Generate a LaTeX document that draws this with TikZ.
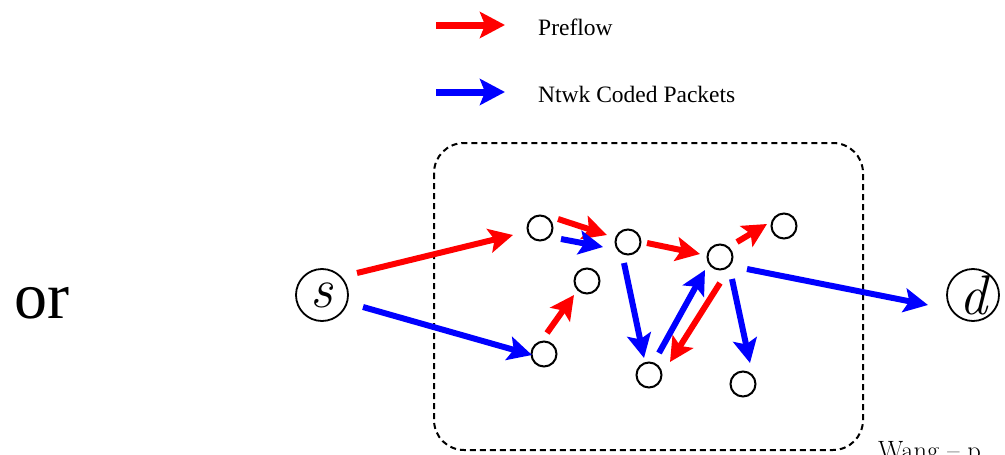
\documentclass[tikz,border=0pt]{standalone}
\usepackage{fontspec}
\newfontfamily\tnr{Liberation Serif}
\usetikzlibrary{arrows.meta,calc}

\tikzset{
  headtip/.tip={Stealth[length=24pt,width=24pt,inset=5pt]},
  preflow/.style={draw=red, line width=6pt, -{headtip}},
  coded/.style={draw=blue, line width=6pt, -{headtip}},
  vertex/.style={circle, draw, line width=2pt, minimum size=25pt, inner sep=0pt},
  terminal/.style={circle, draw, line width=1.8pt, minimum size=52pt, inner sep=0pt,
    font=\fontsize{56}{60}\selectfont\itshape},
  region/.style={draw, line width=2pt, dash pattern=on 6pt off 4pt, rounded corners=30pt},
  legendtext/.style={anchor=base west, inner sep=0pt, font=\tnr\fontsize{23.5}{28}\selectfont}
}

\begin{document}
\begin{tikzpicture}[x=1pt,y=-1pt]
  \useasboundingbox (0,0) rectangle (1005,455);

  % legend
  \coordinate (r0) at (436,25);
  \coordinate (r1) at (505,25);
  \coordinate (b0) at (436,92);
  \coordinate (b1) at (505,92);
  \draw[preflow, line width=7pt, -{Stealth[length=25pt,width=26pt,inset=5pt]}] (r0) -- (r1);
  \draw[coded, line width=7pt, -{Stealth[length=25pt,width=26pt,inset=5pt]}] (b0) -- (b1);
  \node[legendtext] (lp) at (538,35) {Preflow};
  \node[legendtext] (lc) at (538,102) {Ntwk Coded Packets};

  % "or"
  \node[anchor=base west, inner sep=0pt, font=\tnr\fontsize{66}{72}\selectfont] (or) at (14,318) {or};

  % network region
  \draw[region] (434,143) rectangle (863,450);

  % source and sink
  \node[terminal] (s) at (322,295) {s};
  \node[terminal] (d) at (973,295) {d};

  % intermediate nodes
  \node[vertex] (A) at (540,228) {};
  \node[vertex] (B) at (628,242) {};
  \node[vertex] (C) at (587,281) {};
  \node[vertex] (D) at (544,354) {};
  \node[vertex] (E) at (720,257) {};
  \node[vertex] (F) at (784,226) {};
  \node[vertex] (G) at (649,375) {};
  \node[vertex] (H) at (743,384) {};

  % preflow
  \draw[preflow] ($(s)+(35,-22)$) -- ($(A)+(-27,7)$);
  \draw[preflow] ($(A)+(18,-9)$) -- ($(B)+(-21,-7)$);
  \draw[preflow] ($(D)+(3,-21)$) -- ($(C)+(-13,14)$);
  \draw[preflow] ($(B)+(19,1)$) -- ($(E)+(-20,-3)$);
  \draw[preflow] ($(E)+(17,-15)$) -- ($(F)+(-17,-2)$);
  \draw[preflow] ($(E)+(0,26)$) -- ($(G)+(21,-13)$);

  % network coded packets
  \draw[coded] ($(s)+(41,12)$) -- ($(D)+(-12,1)$);
  \draw[coded] ($(A)+(21,11)$) -- ($(B)+(-25,5)$);
  \draw[coded] ($(B)+(-4,21)$) -- ($(G)+(-5,-17)$);
  \draw[coded] ($(G)+(10,-22)$) -- ($(E)+(-15,13)$);
  \draw[coded] ($(E)+(12,22)$) -- ($(H)+(7,-21)$);
  \draw[coded] ($(E)+(27,12)$) -- ($(d)+(-45,10)$);

  % footer
  \node[anchor=base west, inner sep=0pt, font=\fontsize{26.5}{30}\selectfont] (foot) at (878,459) {Wang -- p.};
\end{tikzpicture}
\end{document}
